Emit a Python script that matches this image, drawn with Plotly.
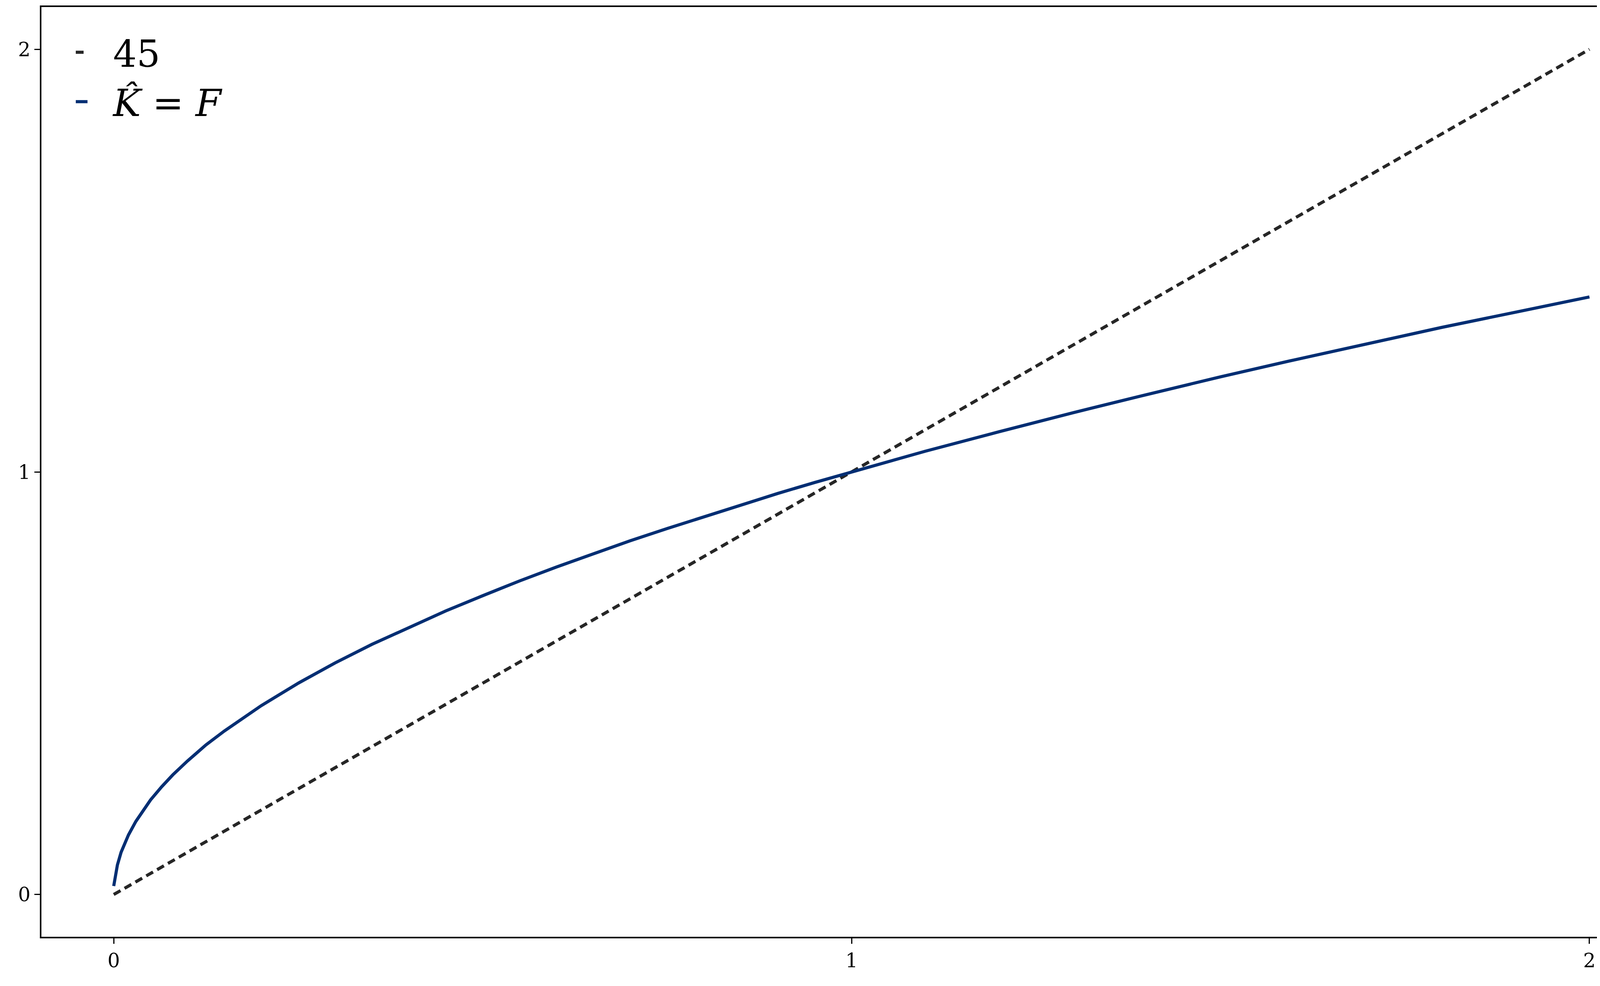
import plotly.graph_objects as go

x_diag = [0, 2]
y_diag = [0, 2]

x_curve = [0.0, 0.005, 0.01, 0.02, 0.03, 0.04, 0.05, 0.065, 0.08, 0.1, 0.125, 0.15, 0.175, 0.2, 0.25,
           0.3, 0.35, 0.4, 0.45, 0.5, 0.55, 0.6, 0.65, 0.7, 0.75, 0.8, 0.85, 0.9, 0.95,
           1.0, 1.1, 1.2, 1.3, 1.4, 1.5, 1.6, 1.7, 1.8, 1.9, 2.0]
y_curve = [0.02, 0.07, 0.1, 0.141, 0.173, 0.2, 0.224, 0.255, 0.283, 0.316, 0.354, 0.387, 0.418, 0.447, 0.5,
           0.548, 0.592, 0.632, 0.671, 0.707, 0.742, 0.775, 0.806, 0.837, 0.866, 0.894, 0.922, 0.949, 0.975,
           1.0, 1.049, 1.095, 1.14, 1.183, 1.225, 1.265, 1.304, 1.342, 1.378, 1.414]

fig = go.Figure()
fig.add_trace(go.Scatter(x=x_diag, y=y_diag, mode="lines", name="  45",
                         line=dict(color="#262626", width=8, dash="20px,12px")))
fig.add_trace(go.Scatter(x=x_curve, y=y_curve, mode="lines", name="  <i>K̂</i> = <i>F</i>",
                         line=dict(color="#022e73", width=8)))

axis = dict(showgrid=False, zeroline=False, showline=True, mirror=True, linecolor="black",
            linewidth=4, ticks="outside", ticklen=14, tickwidth=3, tickcolor="black",
            tickvals=[0, 1, 2], tickfont=dict(size=50, color="black"))
fig.update_xaxes(range=[-0.098, 2.099], **axis)
fig.update_yaxes(range=[-0.1, 2.1], **axis)
fig.update_layout(
    width=4260, height=2500, plot_bgcolor="white", paper_bgcolor="white",
    margin=dict(l=98, r=12, t=6, b=110),
    font=dict(family="DejaVu Serif", color="black"),
    legend=dict(x=0.02, y=0.98, xanchor="left", yanchor="top", font=dict(size=95),
                bgcolor="rgba(0,0,0,0)", tracegroupgap=30),
)
fig.write_html("out.html")
